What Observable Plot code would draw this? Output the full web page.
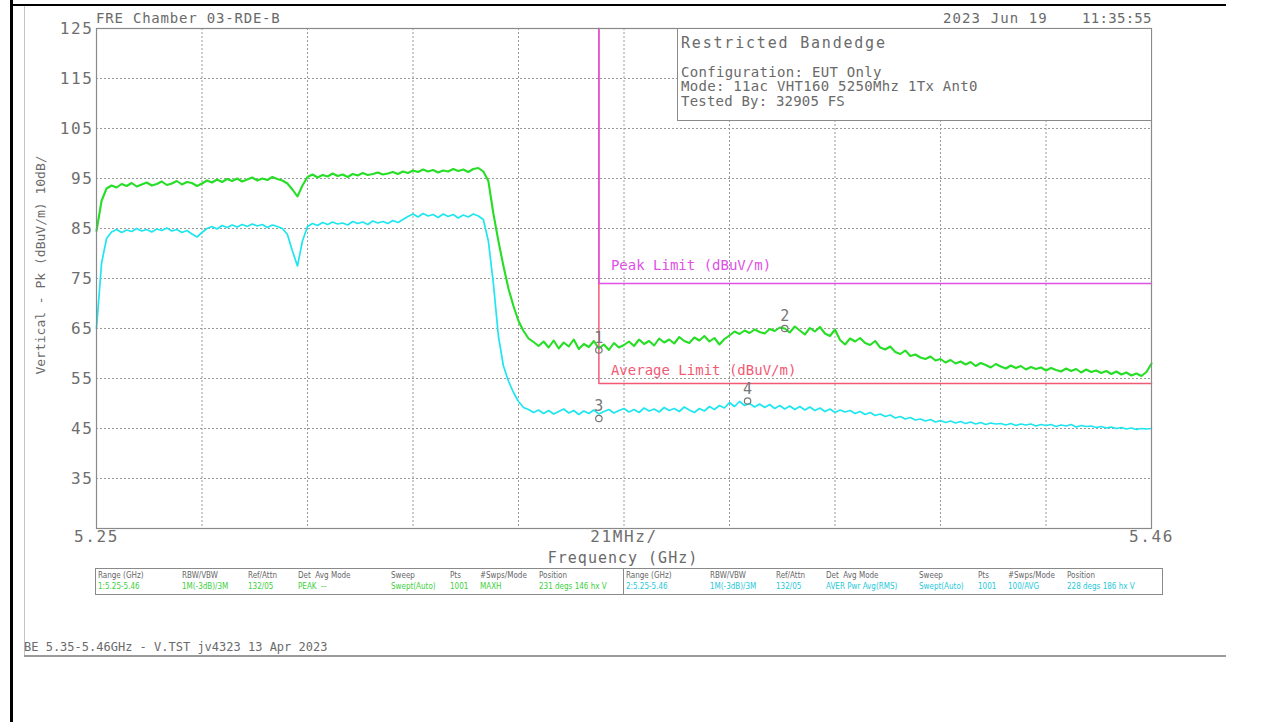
<!DOCTYPE html>
<html>
<head>
<meta charset="utf-8">
<script src="https://cdn.jsdelivr.net/npm/d3@7"></script>
<script src="https://cdn.jsdelivr.net/npm/@observablehq/plot@0.6"></script>
<style>
  html, body { margin: 0; padding: 0; background: #fff; }
  #page { position: relative; width: 1285px; height: 723px; overflow: hidden; background: #fff; }
  #page svg { position: absolute; left: 0; top: 0; }
  .t { position: absolute; white-space: pre; line-height: 1; font-family: "DejaVu Sans Mono", monospace; color: #6a6a6a; }
  .box { position: absolute; border: 1px solid #8a8a8a; background: #fff; box-sizing: border-box; }
  .tbl { position: absolute; border: 1px solid #8a8a8a; box-sizing: border-box; height: 27px; top: 568px; }
  .tc { position: absolute; white-space: pre; font-family: "Liberation Sans Narrow", "DejaVu Sans Condensed", sans-serif; font-size: 8px; line-height: 1; }
  [aria-label="y-axis tick label"] text, [aria-label="x-axis tick label"] text { letter-spacing: 1.6px; }
  [aria-label="limit-label"] text { letter-spacing: 1.4px; }
</style>
</head>
<body>
<div id="page"></div>
<script>
// ---------------- data ----------------
const sweepStartMHz = 5250;   // sweep: 5250 .. 5460 MHz, 1 MHz per reading
const sweepStepMHz = 1;

// Peak detector trace (dBuV/m), green
const peakTrace = [
  84.5, 90.5, 93.0, 93.6, 93.2, 93.9, 93.5, 94.1, 93.4, 93.8,
  94.2, 93.6, 93.9, 94.4, 93.7, 94.0, 94.5, 93.8, 94.3, 94.1,
  93.5, 94.0, 94.6, 94.2, 94.8, 94.3, 94.9, 94.5, 95.0, 94.4,
  94.8, 95.2, 94.6, 95.0, 94.7, 95.3, 94.9, 94.6, 94.0, 92.8,
  91.4, 93.6, 95.3, 95.8, 95.2, 95.7, 95.4, 96.0, 95.5, 95.8,
  95.3, 95.9, 95.6, 96.1, 95.7, 95.9, 96.2, 95.8, 96.0, 96.3,
  95.9, 96.4, 96.1, 96.6, 96.3, 96.8, 96.4, 96.7, 96.2, 96.6,
  96.4, 96.9, 96.5, 96.8, 96.3, 96.9, 97.1, 96.4, 94.5, 88.0,
  82.5, 77.5, 73.0, 69.5, 66.5, 64.5, 63.0, 62.3, 61.5, 62.4,
  61.2, 62.6, 61.0, 62.2, 61.4, 62.8, 60.9, 61.9, 61.3, 62.5,
  61.0, 61.8, 60.7, 62.1, 61.2, 61.7, 62.4, 61.5, 62.8, 61.9,
  62.5, 61.6, 63.0, 62.2, 62.8, 62.0, 63.3, 62.5, 62.1, 63.2,
  62.6, 63.5, 62.4, 63.1, 61.8, 62.9, 63.6, 64.4, 63.9, 64.6,
  64.1, 64.8, 64.3, 64.0, 64.9, 64.5, 65.2, 65.0, 64.2, 65.4,
  64.6, 63.8, 65.1, 64.4, 65.3, 64.0, 63.5, 64.8, 62.7, 61.8,
  63.0, 62.4, 63.1, 62.1, 61.7, 62.5, 61.2, 60.8, 61.4, 60.3,
  59.9, 60.6, 59.5, 59.8, 59.2, 58.9, 59.4, 58.6, 58.9, 58.2,
  58.7, 58.0, 58.4, 57.8, 58.3, 57.5, 58.1, 57.7, 57.2, 57.9,
  57.4, 57.0, 57.6, 57.1, 57.5, 56.8, 57.3, 56.9, 57.2, 56.6,
  57.1, 56.7, 56.4, 57.0, 56.5, 56.9, 56.2, 56.8, 56.3, 56.6,
  56.1, 56.5, 55.9, 56.4, 55.8, 56.2, 55.6, 56.0, 55.5, 56.3,
  58.0
];

// Average detector trace (dBuV/m), cyan
const avgTrace = [
  65.0, 78.0, 83.0, 84.3, 84.8, 84.2, 84.7, 84.4, 85.0, 84.5,
  84.8, 84.3, 84.9, 84.6, 85.1, 84.5, 84.8, 84.2, 84.6, 83.9,
  83.3, 84.2, 85.0, 85.4, 84.9, 85.6, 85.2, 85.7, 85.3, 85.8,
  85.4, 85.9, 85.5, 85.8, 85.2, 85.7, 85.4, 85.0, 83.8, 80.5,
  77.5, 82.5, 85.4, 86.0, 85.6, 86.2, 85.8, 86.3, 85.9, 86.1,
  85.7, 86.4, 86.0, 86.3, 85.8, 86.5, 86.1, 86.4, 86.0, 86.6,
  86.2, 86.8, 87.4, 87.9, 87.3, 88.0, 87.5, 87.8, 87.2, 87.9,
  87.4, 87.8, 87.1, 87.7, 87.3, 87.9, 87.5, 86.8, 82.5, 74.0,
  63.5, 57.5, 54.5, 52.2, 50.4, 49.2, 48.8, 48.2, 48.7, 48.0,
  48.6, 47.9, 48.4, 48.9, 48.1, 48.6, 47.8, 48.5, 48.0, 48.7,
  47.9, 48.4, 48.8, 48.1, 48.6, 49.0, 48.3, 48.8, 48.2, 49.1,
  48.5, 48.9, 48.3, 49.2, 48.6, 49.0, 48.4, 49.3, 48.7, 48.2,
  49.0, 48.5, 49.4, 48.8, 49.6, 49.1, 50.2, 49.4, 50.4, 49.6,
  50.0, 49.3, 49.9, 49.2, 49.8, 49.0, 49.6, 48.9, 49.5, 48.8,
  49.4, 48.7, 49.3, 48.6, 49.1, 48.4, 48.9, 48.2, 48.7, 48.3,
  48.6, 48.0, 48.4, 47.8, 48.2, 47.6, 47.9, 47.4, 47.7, 47.1,
  47.4, 46.9, 47.2, 46.7, 46.9, 46.5, 46.8, 46.3, 46.6, 46.2,
  46.5, 46.1, 46.4, 46.0, 46.3, 45.9, 46.2, 45.8, 46.1, 45.9,
  46.0, 45.7, 46.0, 45.6, 45.9, 45.7, 45.9, 45.5, 45.8, 45.6,
  45.8, 45.4, 45.7, 45.5, 45.8, 45.3, 45.6, 45.4, 45.5, 45.2,
  45.4, 45.1, 45.3, 45.0, 45.2, 44.9, 45.1, 44.8, 45.0, 44.9,
  45.0
];

// Limit lines (corner points)
const limitFreq = [5.35, 5.35, 5.46];
const peakLimit = [125, 74, 74];
const avgLimit  = [125, 54, 54];

// Markers
const markerFreq  = [5.35, 5.387, 5.35, 5.3796];
const markerLevel = [60.7, 65.0, 47.0, 50.5];
const markerLabel = ["1", "2", "3", "4"];

// Axes
const yTicks = [125, 115, 105, 95, 85, 75, 65, 55, 45, 35];
const gridLevels = [115, 105, 95, 85, 75, 65, 55, 45, 35];
const gridFreqs = [5.271, 5.292, 5.313, 5.334, 5.355, 5.376, 5.397, 5.418, 5.439];
const xTicks = [5.25, 5.355, 5.46];
const xTickText = ["5.25", "21MHz/", "5.46"];

// Table text
const tableHeads = ["Range (GHz)", "RBW/VBW", "Ref/Attn", "Det  Avg Mode", "Sweep", "Pts", "#Swps/Mode", "Position"];
const tableCols = [2, 86, 152, 202, 295, 354, 384, 443];
const table1Vals = ["1:5.25-5.46", "1M(-3dB)/3M", "132/05", "PEAK  --", "Swept(Auto)", "1001", "MAXH", "231 degs 146 hx V"];
const table2Vals = ["2:5.25-5.46", "1M(-3dB)/3M", "132/05", "AVER Pwr Avg(RMS)", "Swept(Auto)", "1001", "100/AVG", "228 degs 186 hx V"];

// ---------------- build ----------------
const traceRows = peakTrace.map((v, i) => ({
  f: (sweepStartMHz + i * sweepStepMHz) / 1000,
  peak: v,
  avg: avgTrace[i]
}));
const peakRows = limitFreq.map((f, i) => ({f, v: peakLimit[i]}));
const avgRows = limitFreq.map((f, i) => ({f, v: avgLimit[i]}));
const markerRows = markerFreq.map((f, i) => ({f, v: markerLevel[i], label: markerLabel[i]}));

const mono = "DejaVu Sans Mono, monospace";
const chart = Plot.plot({
  width: 1285,
  height: 723,
  marginLeft: 96,
  marginRight: 134,
  marginTop: 28,
  marginBottom: 195,
  x: {domain: [5.25, 5.46]},
  y: {domain: [25, 125]},
  style: {fontFamily: mono, background: "transparent", color: "#6e6e6e", overflow: "visible"},
  marks: [
    Plot.ruleY(gridLevels, {stroke: "#9a9a9a", strokeDasharray: "2,2", strokeWidth: 1}),
    Plot.ruleX(gridFreqs, {stroke: "#9a9a9a", strokeDasharray: "2,2", strokeWidth: 1}),
    Plot.line(avgRows, {x: "f", y: "v", stroke: "#f25a74", strokeWidth: 1.5}),
    Plot.line(peakRows, {x: "f", y: "v", stroke: "#e050e6", strokeWidth: 1.5}),
    Plot.line(traceRows, {x: "f", y: "avg", stroke: "#1ee6f0", strokeWidth: 1.7}),
    Plot.line(traceRows, {x: "f", y: "peak", stroke: "#26de26", strokeWidth: 2.1}),
    Plot.text(["Peak Limit (dBuV/m)"], {x: () => 5.3524, y: () => 77.6, text: d => d, textAnchor: "start", fill: "#e050e6", fontSize: 14, ariaLabel: "limit-label"}),
    Plot.text(["Average Limit (dBuV/m)"], {x: () => 5.3524, y: () => 56.6, text: d => d, textAnchor: "start", fill: "#f25a74", fontSize: 14, ariaLabel: "limit-label"}),
    Plot.dot(markerRows, {x: "f", y: "v", r: 3.2, stroke: "#777", strokeWidth: 1.2, fill: "none"}),
    Plot.text(markerRows, {x: "f", y: "v", text: "label", dy: -12, fill: "#777", fontSize: 15}),
    Plot.axisY({ticks: yTicks, tickSize: 0, tickPadding: 3, fontSize: 16, label: null}),
    Plot.axisX({ticks: xTicks, tickFormat: d => xTickText[xTicks.indexOf(d)], tickSize: 0, tickPadding: 2, fontSize: 16, label: null}),
    Plot.frame({stroke: "#8a8a8a", strokeWidth: 1.2})
  ]
});

const page = document.getElementById("page");
page.appendChild(chart);

function addDiv(cls, css, text) {
  const d = document.createElement("div");
  d.className = cls;
  Object.assign(d.style, css);
  if (text != null) d.textContent = text;
  page.appendChild(d);
  return d;
}

// page borders (scanned document)
addDiv("", {position: "absolute", left: "10px", top: "0px", width: "3px", height: "722px", background: "#000"});
addDiv("", {position: "absolute", left: "10px", top: "4px", width: "1216px", height: "2px", background: "#000"});
addDiv("", {position: "absolute", left: "24px", top: "6px", width: "1px", height: "649px", background: "#c4c4c4"});
addDiv("", {position: "absolute", left: "24px", top: "655px", width: "1202px", height: "1.5px", background: "#9a9a9a"});

// header
addDiv("t", {left: "96px", top: "11px", fontSize: "14px", letterSpacing: "0.8px"}, "FRE Chamber 03-RDE-B");
addDiv("t", {left: "943px", top: "11px", fontSize: "14px", letterSpacing: "1.1px"}, "2023 Jun 19");
addDiv("t", {left: "1082px", top: "11px", fontSize: "14px", letterSpacing: "0.3px"}, "11:35:55");

// legend box
const box = addDiv("box", {left: "677px", top: "28px", width: "475px", height: "93px"});
addDiv("t", {left: "681px", top: "36px", fontSize: "15px", letterSpacing: "1.8px"}, "Restricted Bandedge");
addDiv("t", {left: "681px", top: "65px", fontSize: "14px", letterSpacing: "0.3px"}, "Configuration: EUT Only");
addDiv("t", {left: "681px", top: "79px", fontSize: "14px", letterSpacing: "0.3px"}, "Mode: 11ac VHT160 5250Mhz 1Tx Ant0");
addDiv("t", {left: "681px", top: "94px", fontSize: "14px", letterSpacing: "0.2px"}, "Tested By: 32905 FS");

// axis titles
addDiv("t", {left: "40px", top: "265px", fontSize: "13px", transform: "translate(-50%,-50%) rotate(-90deg)"}, "Vertical - Pk (dBuV/m) 10dB/");
addDiv("t", {left: "623px", top: "558px", fontSize: "15px", letterSpacing: "1px", transform: "translate(-50%,-50%)"}, "Frequency (GHz)");

// settings table
function addTable(left, width, vals, color) {
  const t = addDiv("tbl", {left: left + "px", width: width + "px"});
  tableHeads.forEach((h, i) => {
    const c = document.createElement("div");
    c.className = "tc";
    Object.assign(c.style, {left: tableCols[i] + "px", top: "3px", color: "#666"});
    c.textContent = h;
    t.appendChild(c);
    const v = document.createElement("div");
    v.className = "tc";
    Object.assign(v.style, {left: tableCols[i] + "px", top: "14px", color: color});
    v.textContent = vals[i];
    t.appendChild(v);
  });
}
addTable(95, 529, table1Vals, "#3ccf3c");
addTable(623, 540, table2Vals, "#26c8d8");

// footer
addDiv("t", {left: "24px", top: "641px", fontSize: "12px"}, "BE 5.35-5.46GHz - V.TST jv4323 13 Apr 2023");
</script>
</body>
</html>
